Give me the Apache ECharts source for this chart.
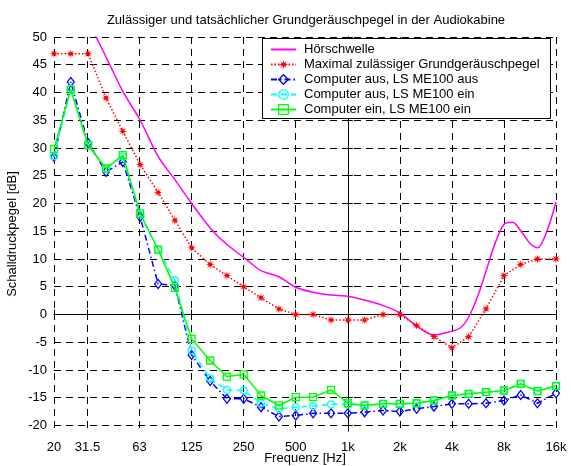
<!DOCTYPE html>
<html>
<head>
<meta charset="utf-8">
<script src="https://cdn.jsdelivr.net/npm/echarts@6/dist/echarts.min.js"></script>
<style>
  html, body { margin: 0; padding: 0; background: #fff; }
  #chart { width: 571px; height: 466px; }
</style>
</head>
<body>
<div id="chart"></div>
<script>
// Third-octave band centre frequencies [Hz]
const bandFreqs = [20, 25, 31.5, 40, 50, 63, 80, 100, 125, 160, 200, 250, 315, 400, 500,
  630, 800, 1000, 1250, 1600, 2000, 2500, 3150, 4000, 5000, 6300, 8000, 10000, 12500, 16000];

// Maximal zulässiger Grundgeräuschpegel [dB]
const maxPermitted = [47, 47, 47, 39, 33, 27, 22, 17, 12, 9, 7, 5, 3, 1, 0,
  0, -1, -1, -1, 0, 0, -2, -4, -6, -4, 1, 7, 9, 10, 10];

// Computer aus, LS ME100 aus [dB]
const pcOffSpkOff = [28.4, 41.9, 30.9, 25.7, 27.5, 17.6, 5.5, 5.2, -7.3, -12.0, -15.2, -15.2, -16.7, -18.4, -18.2,
  -17.8, -17.8, -17.8, -17.6, -17.3, -17.5, -17.0, -16.6, -16.1, -16.1, -16.0, -15.5, -14.5, -16.0, -14.2];

// Computer aus, LS ME100 ein [dB]
const pcOffSpkOn = [28.5, 40.7, 30.5, 26.3, 28.5, 18.0, 11.7, 6.2, -6.5, -11.5, -13.6, -13.7, -16.0, -17.0, -16.7,
  -16.5, -16.2, -16.2, -16.4, -16.1, -16.1, -16.0, -15.5, -14.6, -14.3, -14.0, -13.7, -12.5, -13.8, -12.9];

// Computer ein, LS ME100 ein [dB]
const pcOnSpkOn = [29.8, 40.5, 30.5, 26.3, 28.7, 18.2, 11.7, 4.8, -4.4, -8.3, -11.2, -10.8, -14.6, -16.4, -14.9,
  -14.9, -13.6, -16.0, -16.4, -16.1, -16.1, -16.0, -15.5, -14.6, -14.3, -14.0, -13.7, -12.5, -13.8, -12.9];

// Hörschwelle (hearing threshold) [Hz] / [dB]
const thresholdFreqs = [20, 25, 31.5, 40, 50, 63, 80, 100, 125, 160, 200, 250, 315, 400, 500,
  630, 800, 1000, 1250, 1600, 2000, 2500, 3150, 4000, 4490, 5000, 5660, 6300, 7130, 8000,
  8980, 10000, 11310, 12500, 14250, 16000];
const thresholdLevels = [66, 59.4, 52.9, 46.4, 40.2, 35.0, 28.5, 24.3, 20.0, 15.6, 12.6, 10.3, 7.9, 6.8, 4.9,
  4.0, 3.5, 3.3, 2.6, 1.6, 0.3, -2.1, -3.7, -3.0, -2.4, -0.5, 3.4, 7.8, 12.9, 16.2,
  16.6, 15.1, 12.8, 12.0, 15.2, 20.3];

// Axis ticks
const xTickFreqs = [20, 31.25, 62.5, 125, 250, 500, 1000, 2000, 4000, 8000, 16000];
const xTickLabels = ['20', '31.5', '63', '125', '250', '500', '1k', '2k', '4k', '8k', '16k'];
const yTicks = [-20, -15, -10, -5, 0, 5, 10, 15, 20, 25, 30, 35, 40, 45, 50];
const yMin = -21, yMax = 50;

const seriesNames = [
  'Hörschwelle',
  'Maximal zulässiger Grundgeräuschpegel',
  'Computer aus, LS ME100 aus',
  'Computer aus, LS ME100 ein',
  'Computer ein, LS ME100 ein'
];

// log-frequency position in octaves relative to 1 kHz
const oct = f => Math.log2(f / 1000);
const pairs = (freqs, vals) => freqs.map((f, i) => [oct(f), vals[i]]);
const xTickPos = xTickFreqs.map(oct);

// eight-armed asterisk marker
function asteriskPath() {
  const pts = [];
  for (let k = 0; k < 16; k++) {
    const r = k % 2 === 0 ? 10 : 3.6;
    const a = Math.PI * k / 8 - Math.PI / 2;
    pts.push((r * Math.cos(a)).toFixed(2) + ',' + (r * Math.sin(a)).toFixed(2));
  }
  return 'path://M' + pts.join('L') + 'Z';
}

const FONT = '"Liberation Sans", Arial, Helvetica, sans-serif';
const FS = 13;
const gridDash = { color: '#000', width: 1, type: [7, 5] };
const hollow = c => ({ color: 'rgba(0,0,0,0)', borderColor: c, borderWidth: 1.3 });

const chart = echarts.init(document.getElementById('chart'), null, { renderer: 'canvas' });

const option = {
  animation: false,
  backgroundColor: '#fff',
  textStyle: { fontFamily: FONT },
  title: {
    text: 'Zulässiger und tatsächlicher Grundgeräuschpegel in der Audiokabine',
    left: 301, top: 9, textAlign: 'center',
    textStyle: { fontFamily: FONT, fontSize: FS, fontWeight: 'normal', color: '#000' }
  },
  grid: { left: 54, right: 15, top: 37, bottom: 35, containLabel: false, outerBoundsMode: 'none' },
  // legend frame
  graphic: [{
    type: 'rect', left: 262, top: 38, z: 50,
    shape: { width: 288, height: 80 },
    style: { fill: '#fff', stroke: '#000', lineWidth: 1 }
  }],
  legend: {
    orient: 'vertical',
    left: 262, top: 40, z: 60,
    padding: [2, 8, 2, 8],
    itemWidth: 25, itemHeight: 12, itemGap: 0,
    textStyle: { fontFamily: FONT, fontSize: FS, lineHeight: 15, color: '#000', padding: [0, 0, 0, 3] },
    selectedMode: false,
    data: [
      { name: seriesNames[0], itemStyle: { opacity: 0 } },
      { name: seriesNames[1] },
      { name: seriesNames[2], itemStyle: hollow('#0000ff') },
      { name: seriesNames[3], itemStyle: hollow('#00ffff') },
      { name: seriesNames[4], itemStyle: hollow('#00ff00') }
    ]
  },
  xAxis: [{
    type: 'value',
    min: oct(20), max: oct(16000),
    name: 'Frequenz [Hz]',
    nameLocation: 'middle', nameGap: 21, nameMoveOverlap: false,
    nameTextStyle: { fontFamily: FONT, fontSize: FS, color: '#000' },
    axisLine: { show: true, lineStyle: { color: '#000', width: 1 } },
    axisTick: { show: true, inside: true, length: 5, customValues: xTickPos, lineStyle: { color: '#000' } },
    axisLabel: {
      show: true, customValues: xTickPos, margin: 10,
      fontFamily: FONT, fontSize: FS, color: '#000',
      formatter: v => {
        let best = 0;
        xTickPos.forEach((p, i) => { if (Math.abs(p - v) < Math.abs(xTickPos[best] - v)) best = i; });
        return xTickLabels[best];
      }
    },
    splitLine: { show: true, lineStyle: gridDash }
  }, {
    type: 'value', position: 'top',
    min: oct(20), max: oct(16000),
    axisLine: { show: true, lineStyle: { color: '#000', width: 1 } },
    axisTick: { show: true, inside: true, length: 5, customValues: xTickPos, lineStyle: { color: '#000' } },
    axisLabel: { show: false },
    splitLine: { show: false }
  }],
  yAxis: [{
    type: 'value',
    min: yMin, max: yMax,
    name: 'Schalldruckpegel [dB]',
    nameLocation: 'middle', nameGap: 35, nameMoveOverlap: false,
    nameTextStyle: { fontFamily: FONT, fontSize: FS, color: '#000' },
    axisLine: { show: true, lineStyle: { color: '#000', width: 1 } },
    axisTick: { show: true, inside: true, length: 5, customValues: yTicks, lineStyle: { color: '#000' } },
    axisLabel: { show: true, customValues: yTicks, margin: 7, fontFamily: FONT, fontSize: FS, color: '#000' },
    splitLine: { show: true, lineStyle: gridDash }
  }, {
    type: 'value', position: 'right',
    min: yMin, max: yMax,
    axisLine: { show: true, lineStyle: { color: '#000', width: 1 } },
    axisTick: { show: true, inside: true, length: 5, customValues: yTicks, lineStyle: { color: '#000' } },
    axisLabel: { show: false },
    splitLine: { show: false }
  }],
  series: [
    {
      name: seriesNames[0], type: 'line',
      data: pairs(thresholdFreqs, thresholdLevels),
      smooth: 0.3, symbol: 'none', clip: true,
      color: '#ff00ff',
      lineStyle: { color: '#ff00ff', width: 1.5 },
      z: 2
    },
    {
      name: seriesNames[1], type: 'line',
      data: pairs(bandFreqs, maxPermitted),
      symbol: asteriskPath(), symbolSize: 9, showAllSymbol: true,
      color: '#ff0000',
      itemStyle: { color: '#ff0000' },
      lineStyle: { color: '#ff0000', width: 1.5, type: [1.5, 2] },
      z: 3
    },
    {
      name: seriesNames[2], type: 'line',
      data: pairs(bandFreqs, pcOffSpkOff),
      symbol: 'diamond', symbolSize: [7, 9], showAllSymbol: true,
      color: '#0000ff',
      itemStyle: hollow('#0000ff'),
      lineStyle: { color: '#0000ff', width: 1.5, type: [6, 3, 1.5, 3] },
      z: 4
    },
    {
      name: seriesNames[3], type: 'line',
      data: pairs(bandFreqs, pcOffSpkOn),
      symbol: 'circle', symbolSize: 7, showAllSymbol: true,
      color: '#00ffff',
      itemStyle: hollow('#00ffff'),
      lineStyle: { color: '#00ffff', width: 1.5, type: [6, 4] },
      z: 5
    },
    {
      name: seriesNames[4], type: 'line',
      data: pairs(bandFreqs, pcOnSpkOn),
      symbol: 'rect', symbolSize: 7, showAllSymbol: true,
      color: '#00ff00',
      itemStyle: hollow('#00ff00'),
      lineStyle: { color: '#00ff00', width: 1.5 },
      z: 6
    }
  ]
};

chart.setOption(option);
</script>
</body>
</html>
